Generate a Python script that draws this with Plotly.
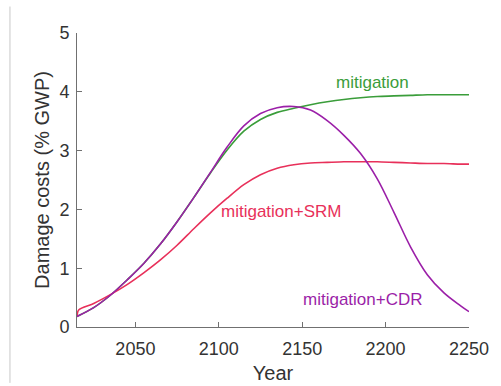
import plotly.graph_objects as go

# Damage cost trajectories (% of gross world product) by year
years = [2015, 2025, 2035, 2045, 2055, 2065, 2075, 2085, 2095, 2105, 2115, 2125,
         2135, 2145, 2155, 2165, 2175, 2185, 2195, 2205, 2215, 2225, 2235, 2245, 2250]
damage_mitigation = [0.18, 0.33, 0.54, 0.80, 1.08, 1.41, 1.79, 2.20, 2.62, 3.01, 3.33, 3.53,
                     3.65, 3.72, 3.78, 3.83, 3.87, 3.90, 3.92, 3.93, 3.94, 3.95, 3.95, 3.95, 3.95]
damage_cdr = [0.18, 0.33, 0.54, 0.80, 1.08, 1.41, 1.79, 2.20, 2.63, 3.06, 3.42, 3.63,
              3.73, 3.75, 3.69, 3.51, 3.26, 2.95, 2.52, 1.95, 1.36, 0.89, 0.58, 0.36, 0.26]

years_srm = [2015, 2016, 2025, 2035, 2045, 2055, 2065, 2075, 2085, 2095, 2105, 2115, 2125,
             2135, 2145, 2155, 2165, 2175, 2185, 2195, 2205, 2215, 2225, 2235, 2245, 2250]
damage_srm = [0.18, 0.29, 0.40, 0.55, 0.72, 0.92, 1.14, 1.39, 1.67, 1.94, 2.19, 2.42, 2.59,
              2.70, 2.76, 2.79, 2.80, 2.81, 2.81, 2.81, 2.80, 2.79, 2.78, 2.78, 2.77, 2.77]

x_ticks = [2050, 2100, 2150, 2200, 2250]
y_ticks = [0, 1, 2, 3, 4, 5]

GREEN = "#3a9d3a"
RED = "#e8305a"
PURPLE = "#9b1fa8"
FONT = "Liberation Sans, Arial, sans-serif"

fig = go.Figure()
fig.add_trace(go.Scatter(x=years, y=damage_mitigation, mode="lines",
                         line=dict(color=GREEN, width=1.6, shape="spline", smoothing=1.0)))
fig.add_trace(go.Scatter(x=years_srm, y=damage_srm, mode="lines",
                         line=dict(color=RED, width=1.6, shape="spline", smoothing=0.8)))
fig.add_trace(go.Scatter(x=years, y=damage_cdr, mode="lines",
                         line=dict(color=PURPLE, width=1.6, shape="spline", smoothing=1.0)))

labels = [("mitigation", 2192, 4.16, GREEN),
          ("mitigation+SRM", 2137, 1.97, RED),
          ("mitigation+CDR", 2186.5, 0.46, PURPLE)]
for text, xv, yv, col in labels:
    fig.add_annotation(x=xv, y=yv, text=text, showarrow=False,
                       font=dict(family=FONT, size=17, color=col),
                       xanchor="center", yanchor="middle")

# thin frame edge at the left of the figure
fig.add_shape(type="line", xref="paper", yref="paper",
              x0=-0.171, x1=-0.171, y0=-0.19, y1=1.09,
              line=dict(color="#c8c8c8", width=1))

axis_common = dict(showgrid=False, zeroline=False, showline=True, automargin=False,
                   linecolor="#707070", linewidth=1,
                   ticks="inside", ticklen=5, tickcolor="#707070",
                   tickfont=dict(family=FONT, size=18, color="#333333"),
                   title_font=dict(family=FONT, size=20, color="#333333"))

fig.update_xaxes(range=[2015, 2250], tickvals=x_ticks, title_text="Year",
                 ticklabelstandoff=5, title_standoff=8, **axis_common)
fig.update_yaxes(range=[0, 5], tickvals=y_ticks, title_text="Damage costs (% GWP)",
                 ticklabelstandoff=3, title_standoff=4, **axis_common)

fig.update_layout(width=501, height=386, showlegend=False,
                  margin=dict(l=77, r=32, t=33, b=59),
                  plot_bgcolor="white", paper_bgcolor="white")

fig.write_html("out.html")
